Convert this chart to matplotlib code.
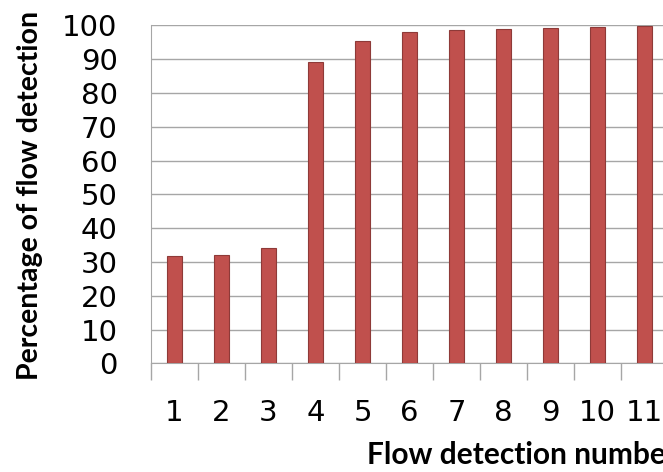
import matplotlib
matplotlib.use("Agg")
import matplotlib.pyplot as plt
import numpy as np

categories = ["1", "2", "3", "4", "5", "6", "7", "8", "9", "10", "11"]
values = [31.7, 32.0, 34.0, 89.2, 95.3, 98.2, 98.8, 99.1, 99.4, 99.7, 99.8]
yticks = [0, 10, 20, 30, 40, 50, 60, 70, 80, 90, 100]

W, H = 663, 472
fig = plt.figure(figsize=(W / 100, H / 100), dpi=100)
# axes: left 151px, right ~668px (beyond figure, cropped), top y=25, bottom y=363
left, right, top, bottom = 151, 668, 25.5, 363.3
ax = fig.add_axes([left / W, 1 - bottom / H, (right - left) / W, (bottom - top) / H])

x = np.arange(1, len(categories) + 1)
ax.bar(x, values, width=0.34, color="#C0504D", edgecolor="#8E3A38", linewidth=0.8, zorder=3)

ax.set_xlim(0.5, len(categories) + 0.5)
ax.set_ylim(0, 100)
ax.set_yticks(yticks)
ax.set_yticklabels([str(v) for v in yticks], fontsize=21, family="DejaVu Sans")
ax.yaxis.grid(True, color="#A6A6A6", linewidth=1.0, zorder=0)
ax.set_axisbelow(True)

ax.set_xticks(x)
ax.set_xticklabels(categories, fontsize=21, family="DejaVu Sans")
ax.tick_params(axis="x", length=0, pad=26)
ax.tick_params(axis="y", length=0, pad=24, colors="black")

# minor ticks at category boundaries
ax.set_xticks(np.arange(0.5, len(categories) + 1, 1), minor=True)
ax.tick_params(axis="x", which="minor", length=12, color="#A6A6A6", width=1)
ax.set_yticks(yticks, minor=True)
ax.tick_params(axis="y", which="minor", length=11, color="#A6A6A6", width=1)

for s in ["top", "right"]:
    ax.spines[s].set_visible(False)
ax.spines["left"].set_color("#A6A6A6")
ax.spines["bottom"].set_color("#A6A6A6")

fig.text(30 / W, 1 - 195 / H, "Percentage of flow detection", rotation=90,
         ha="center", va="center", fontsize=20.5, fontweight="bold", family="Lato")
fig.text(367 / W, 1 - 455 / H, "Flow detection number", ha="left", va="center",
         fontsize=21.5, fontweight="bold", family="Lato")

fig.savefig("out.png", dpi=100)
